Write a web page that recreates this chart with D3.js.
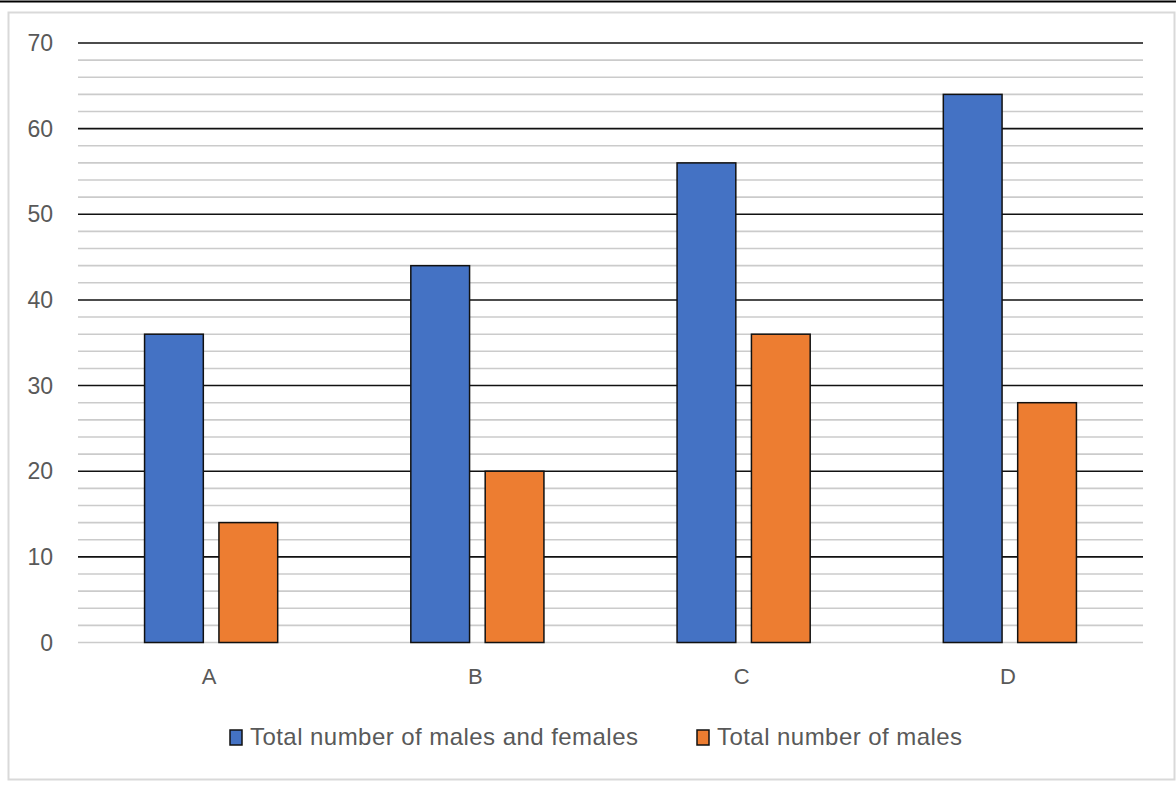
<!DOCTYPE html>
<html>
<head>
<meta charset="utf-8">
<script src="https://cdn.jsdelivr.net/npm/d3@7"></script>
<style>
  body { margin: 0; background: #fff; }
  text { font-family: "Liberation Sans", Arial, sans-serif; }
</style>
</head>
<body>
<svg id="chart" width="1176" height="787"></svg>
<script>
let categories = ["A", "B", "C", "D"];
let seriesNames = ["Total number of males and females", "Total number of males"];
let totalValues = [36, 44, 56, 64];
let maleValues = [14, 20, 36, 28];
let majorTicks = [0, 10, 20, 30, 40, 50, 60, 70];
let seriesColors = ["#4472C4", "#ED7D31"];

let chartAttr = {
  "width": 1176,
  "height": 787,
  "left": 78,
  "right": 1143,
  "top": 43,
  "bottom": 642.5
}

let svg = d3.select("#chart");

// top black rule and light chart border
svg.append("line")
  .attr("x1", 0).attr("x2", chartAttr.width)
  .attr("y1", 1.5).attr("y2", 1.5)
  .style("stroke", "#000")
  .style("stroke-width", 2);
svg.append("rect")
  .attr("x", 8.5).attr("y", 12.5)
  .attr("width", 1166).attr("height", 767)
  .style("fill", "none")
  .style("stroke", "#d9d9d9")
  .style("stroke-width", 2);

let y = d3.scaleLinear()
  .domain([0, 70])
  .range([chartAttr.bottom, chartAttr.top]);

let x0 = d3.scaleBand()
  .domain(categories)
  .range([chartAttr.left, chartAttr.right]);

let x1 = d3.scaleBand()
  .domain(seriesNames)
  .range([x0.bandwidth() * 0.25, x0.bandwidth() * 0.75])
  .paddingInner(0.21);

// minor gridlines every 2
let minorTicks = d3.range(2, 70, 2).filter(d => d % 10 != 0);
svg.append("g")
  .selectAll("line")
  .data(minorTicks)
  .join("line")
  .attr("x1", chartAttr.left).attr("x2", chartAttr.right)
  .attr("y1", d => y(d)).attr("y2", d => y(d))
  .style("stroke", "#cbcbcb")
  .style("stroke-width", 1.6);

// major gridlines (zero line stays light)
svg.append("g")
  .selectAll("line")
  .data(majorTicks)
  .join("line")
  .attr("x1", chartAttr.left).attr("x2", chartAttr.right)
  .attr("y1", d => y(d)).attr("y2", d => y(d))
  .style("stroke", d => d == 0 ? "#cbcbcb" : "#111")
  .style("stroke-width", d => d == 0 ? 1.6 : 1.6);

// y tick labels
svg.append("g")
  .selectAll("text")
  .data(majorTicks)
  .join("text")
  .attr("x", 53)
  .attr("y", d => y(d))
  .text(d => d)
  .style("text-anchor", "end")
  .style("dominant-baseline", "central")
  .style("font-size", 23)
  .style("fill", "#595959");

// bars
let seriesValues = [totalValues, maleValues];
categories.forEach(function(cat, i) {
  seriesNames.forEach(function(name, j) {
    let v = seriesValues[j][i];
    svg.append("rect")
      .attr("x", x0(cat) + x1(name))
      .attr("y", y(v))
      .attr("width", x1.bandwidth())
      .attr("height", y(0) - y(v))
      .style("fill", seriesColors[j])
      .style("stroke", "#111")
      .style("stroke-width", 1.5);
  });
});

// category labels
svg.append("g")
  .selectAll("text")
  .data(categories)
  .join("text")
  .attr("x", d => x0(d) + x0.bandwidth() / 2 - 2)
  .attr("y", 676)
  .text(d => d)
  .style("text-anchor", "middle")
  .style("dominant-baseline", "central")
  .style("font-size", 22)
  .style("fill", "#595959");

// legend
let legendX = [230, 697];
seriesNames.forEach(function(name, j) {
  svg.append("rect")
    .attr("x", legendX[j])
    .attr("y", 730)
    .attr("width", 12)
    .attr("height", 15)
    .style("fill", seriesColors[j])
    .style("stroke", "#111")
    .style("stroke-width", 1.5);
  svg.append("text")
    .attr("x", legendX[j] + 20)
    .attr("y", 745)
    .text(name)
    .style("font-size", 24)
    .style("letter-spacing", "0.45px")
    .style("fill", "#595959");
});
</script>
</body>
</html>
